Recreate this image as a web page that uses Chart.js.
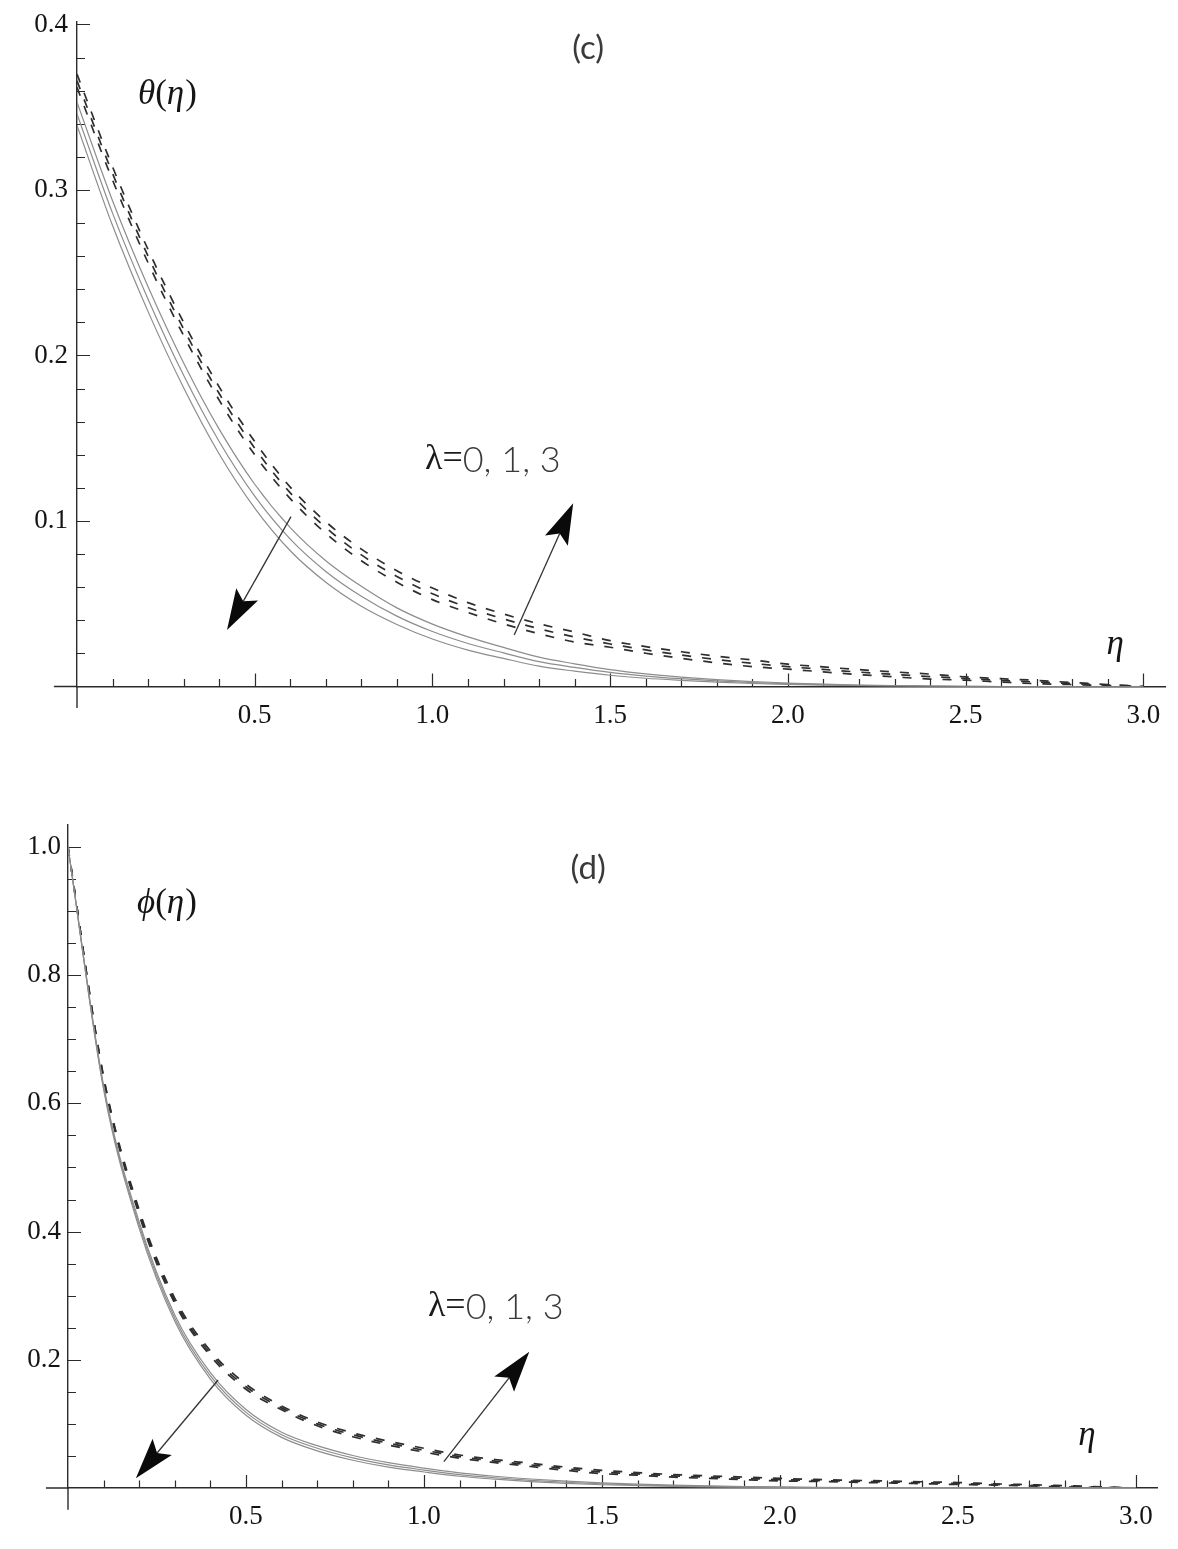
<!DOCTYPE html>
<html>
<head>
<meta charset="utf-8">
<script src="https://cdn.jsdelivr.net/npm/chart.js"></script>
<style>
html,body{margin:0;padding:0;background:#ffffff;}
#wrap{position:relative;width:1178px;height:1549px;overflow:hidden;background:#fff;}
.panel{position:absolute;left:0;width:1178px;}
canvas{display:block;}
</style>
</head>
<body>
<div id="wrap">
  <div class="panel" style="top:0;height:775px"><canvas id="panelC" width="1178" height="775" style="width:1178px;height:775px"></canvas></div>
  <div class="panel" style="top:775px;height:774px"><canvas id="panelD" width="1178" height="774" style="width:1178px;height:774px"></canvas></div>
</div>
<script>
// ---------------- data ----------------
const eta = [0,0.1,0.2,0.3,0.4,0.5,0.6,0.7,0.8,0.9,1.0,1.1,1.2,1.3,1.4,1.5,1.6,1.7,1.8,1.9,2.0,2.1,2.2,2.3,2.4,2.5,2.6,2.7,2.8,2.9,3.0];

// panel (c): theta(eta); solid curves fall with lambda, dashed curves rise with lambda
const thetaSolidL0 = [0.353,0.2935,0.2415,0.1955,0.1555,0.1222,0.096,0.076,0.0605,0.0475,0.0377,0.030,0.0236,0.0177,0.0137,0.0102,0.0076,0.0057,0.0042,0.003,0.0021,0.0014,0.0009,0.0005,0.0003,0.0001,0,0,0,0,0];
const thetaSolidL1 = [0.346,0.286,0.234,0.188,0.148,0.115,0.089,0.0695,0.0545,0.0425,0.0332,0.026,0.0203,0.015,0.0115,0.0085,0.0063,0.0047,0.0034,0.0024,0.0017,0.0011,0.0007,0.0004,0.0002,0.0001,0,0,0,0,0];
const thetaSolidL3 = [0.339,0.2785,0.2265,0.1805,0.1405,0.1078,0.082,0.063,0.0485,0.0375,0.0287,0.022,0.017,0.0123,0.0093,0.0068,0.005,0.0037,0.0026,0.0018,0.0013,0.0008,0.0005,0.0003,0.0001,0,0,0,0,0,0];
const thetaDashedL0 = [0.362,0.306,0.256,0.212,0.173,0.140,0.1135,0.0925,0.076,0.063,0.0525,0.0447,0.0378,0.0319,0.0269,0.0237,0.0201,0.017,0.0143,0.012,0.0105,0.0088,0.0072,0.0058,0.0045,0.0038,0.0027,0.0017,0.0012,0.0006,0];
const thetaDashedL1 = [0.366,0.310,0.260,0.216,0.177,0.144,0.117,0.096,0.0795,0.0665,0.056,0.0477,0.0408,0.0349,0.0299,0.0257,0.0221,0.019,0.0163,0.014,0.012,0.0103,0.0087,0.0073,0.006,0.0048,0.0037,0.0027,0.0018,0.0009,0];
const thetaDashedL3 = [0.370,0.314,0.264,0.220,0.181,0.148,0.1205,0.0995,0.083,0.070,0.0595,0.0507,0.0438,0.0379,0.0329,0.0277,0.0241,0.021,0.0183,0.016,0.0135,0.0118,0.0102,0.0088,0.0075,0.0058,0.0047,0.0037,0.0024,0.0012,0];

// panel (d): phi(eta)
const phiSolidL0 = [1.0,0.628,0.415,0.270,0.180,0.1225,0.087,0.066,0.0507,0.0395,0.031,0.0237,0.0183,0.014,0.0107,0.0079,0.0059,0.0044,0.0032,0.0023,0.0016,0.0011,0.0007,0.0004,0.0002,0.0001,0,0,0,0,0];
const phiSolidL1 = [1.0,0.625,0.41,0.265,0.175,0.118,0.083,0.062,0.047,0.036,0.028,0.021,0.016,0.012,0.009,0.0065,0.0048,0.0035,0.0025,0.0018,0.0012,0.0008,0.0005,0.0003,0.0002,0.0001,0,0,0,0,0];
const phiSolidL3 = [1.0,0.622,0.405,0.260,0.170,0.1135,0.079,0.058,0.0433,0.0325,0.025,0.0183,0.0137,0.010,0.0073,0.0051,0.0037,0.0026,0.0018,0.0013,0.0008,0.0005,0.0003,0.0002,0.0001,0,0,0,0,0,0];
const phiDashedL0 = [1.0,0.638,0.426,0.288,0.206,0.154,0.122,0.097,0.080,0.067,0.056,0.0465,0.0395,0.0335,0.0275,0.0225,0.020,0.017,0.015,0.013,0.011,0.0103,0.0091,0.0079,0.0067,0.0055,0.0046,0.0032,0.0017,0.0008,0];
const phiDashedL1 = [1.0,0.64,0.43,0.292,0.21,0.158,0.125,0.100,0.083,0.070,0.059,0.049,0.042,0.036,0.030,0.025,0.022,0.019,0.017,0.015,0.013,0.0118,0.0106,0.0094,0.0082,0.007,0.0056,0.0042,0.0027,0.0013,0];
const phiDashedL3 = [1.0,0.642,0.434,0.296,0.214,0.162,0.128,0.103,0.086,0.073,0.062,0.0515,0.0445,0.0385,0.0325,0.0275,0.024,0.021,0.019,0.017,0.015,0.0133,0.0121,0.0109,0.0097,0.0085,0.0066,0.0052,0.0037,0.0018,0];

// tick labels
const etaTickValues = [0.5,1.0,1.5,2.0,2.5,3.0];
const etaTickLabels = ['0.5','1.0','1.5','2.0','2.5','3.0'];
const thetaTickValues = [0.1,0.2,0.3,0.4];
const thetaTickLabels = ['0.1','0.2','0.3','0.4'];
const phiTickValues = [0.2,0.4,0.6,0.8,1.0];
const phiTickLabels = ['0.2','0.4','0.6','0.8','1.0'];

// texts
const lambdaSeries = ['λ=0','λ=1','λ=3'];
const panelCLabel = '(c)';
const panelDLabel = '(d)';
const lambdaText = 'λ=0, 1, 3';

// ---------------- styling ----------------
const SERIF = '"Liberation Serif","Times New Roman",serif';
const SANS = 'Lato,"Noto Sans","DejaVu Sans",sans-serif';
const AXIS = '#2b2b2b';
const SOLID = '#8d8d8d';
const DASHED = '#2e2e2e';

function tickLabel(v, values, labels) {
  for (let i = 0; i < values.length; i++) {
    if (Math.abs(v - values[i]) < 1e-6) return labels[i];
  }
  return '';
}

function pts(arr) { return eta.map((e, i) => ({x: e, y: arr[i]})); }

function datasets(solid, dashed) {
  const out = [];
  solid.forEach((arr, i) => out.push({label: lambdaSeries[i] + ' (solid)', data: pts(arr), borderColor: SOLID, borderWidth: 1.2, pointRadius: 0, fill: false}));
  dashed.forEach((arr, i) => out.push({label: lambdaSeries[i] + ' (dashed)', data: pts(arr), borderColor: DASHED, borderWidth: 1.7, borderDash: [9, 11], pointRadius: 0, fill: false}));
  return out;
}

function drawParts(ctx, parts, x, y, align) {
  let total = 0;
  parts.forEach(p => { ctx.font = p.font; p.w = ctx.measureText(p.text).width + (p.gap || 0); total += p.w; });
  let cx = align === 'center' ? x - total / 2 : x;
  ctx.textBaseline = 'middle';
  ctx.textAlign = 'left';
  parts.forEach(p => { ctx.font = p.font; ctx.fillStyle = p.color || '#151515'; ctx.fillText(p.text, cx, y); cx += p.w; });
}

function drawArrow(ctx, x1, y1, x2, y2) {
  const a = Math.atan2(y2 - y1, x2 - x1);
  const L = 41, W = 12.5, N = 33;
  const c = Math.cos(a), s = Math.sin(a);
  const bx = x2 - L * c, by = y2 - L * s;
  const nx = x2 - N * c, ny = y2 - N * s;
  ctx.strokeStyle = '#333'; ctx.lineWidth = 1.3;
  ctx.beginPath(); ctx.moveTo(x1, y1); ctx.lineTo(nx, ny); ctx.stroke();
  ctx.fillStyle = '#0a0a0a';
  ctx.beginPath();
  ctx.moveTo(x2, y2);
  ctx.lineTo(bx + W * s, by - W * c);
  ctx.lineTo(nx, ny);
  ctx.lineTo(bx - W * s, by + W * c);
  ctx.closePath(); ctx.fill();
}

const mathAxes = {
  id: 'mathAxes',
  beforeDatasetsDraw(chart) {
    const o = chart.options.plugins.mathAxes;
    const ctx = chart.ctx, xs = chart.scales.x, ys = chart.scales.y;
    const x0 = xs.getPixelForValue(0), y0 = ys.getPixelForValue(0);
    ctx.save();
    ctx.strokeStyle = AXIS; ctx.lineWidth = 1.4;
    ctx.beginPath();
    ctx.moveTo(xs.getPixelForValue(o.xAxisFrom), y0); ctx.lineTo(x0, y0);
    ctx.moveTo(x0, ys.getPixelForValue(o.yAxisFrom)); ctx.lineTo(x0, y0);
    ctx.stroke();
    ctx.lineWidth = 1.2;
    ctx.beginPath();
    xs.ticks.forEach(t => {
      if (t.value <= 1e-9) return;
      const p = Math.round(xs.getPixelForValue(t.value)) + 0.5;
      const len = t.label ? 13 : 7.5;
      ctx.moveTo(p, y0); ctx.lineTo(p, y0 - len);
    });
    ys.ticks.forEach(t => {
      if (t.value <= 1e-9) return;
      const p = Math.round(ys.getPixelForValue(t.value)) + 0.5;
      const len = t.label ? 13 : 8;
      ctx.moveTo(x0, p); ctx.lineTo(x0 + len, p);
    });
    ctx.stroke();
    ctx.restore();
  },
  afterDatasetsDraw(chart) {
    const o = chart.options.plugins.mathAxes;
    const ctx = chart.ctx, xs = chart.scales.x, ys = chart.scales.y;
    ctx.save();
    o.texts.forEach(t => drawParts(ctx, t.parts, xs.getPixelForValue(t.at[0]), ys.getPixelForValue(t.at[1]), t.align));
    o.arrows.forEach(a => drawArrow(ctx, xs.getPixelForValue(a.from[0]), ys.getPixelForValue(a.from[1]), xs.getPixelForValue(a.to[0]), ys.getPixelForValue(a.to[1])));
    ctx.restore();
  }
};

function lambdaParts() {
  return [
    {text: lambdaText.slice(0, 1), font: '36px ' + SERIF, color: '#1a1a1a'},
    {text: lambdaText.slice(1, 2), font: '36px ' + SERIF, color: '#1a1a1a'},
    {text: lambdaText.slice(2), font: '300 36px ' + SANS, color: '#3a3a3a'}
  ];
}
function funcParts(sym) {
  return [
    {text: sym, font: 'italic 35px ' + SERIF},
    {text: '(', font: '35px ' + SERIF},
    {text: 'η', font: 'italic 35px ' + SERIF, gap: 1},
    {text: ')', font: '35px ' + SERIF}
  ];
}
function panelParts(label) {
  return [{text: label, font: '400 33px ' + SANS, color: '#3a3a3a'}];
}

function makeChart(id, cfg) {
  return new Chart(document.getElementById(id), {
    type: 'line',
    data: {datasets: datasets(cfg.solid, cfg.dashed)},
    plugins: [mathAxes],
    options: {
      responsive: false,
      animation: false,
      devicePixelRatio: 1,
      layout: {padding: cfg.padding},
      elements: {line: {tension: 0, cubicInterpolationMode: 'monotone'}, point: {radius: 0}},
      plugins: {
        legend: {display: false},
        tooltip: {enabled: false},
        mathAxes: {xAxisFrom: cfg.xAxisFrom, yAxisFrom: cfg.yAxisFrom, texts: cfg.texts, arrows: cfg.arrows}
      },
      scales: {
        x: {
          type: 'linear', min: 0, max: cfg.xMax,
          grid: {display: false, drawTicks: false},
          border: {display: true, color: AXIS, width: 1.4},
          ticks: {stepSize: 0.1, autoSkip: false, includeBounds: false, maxRotation: 0, minRotation: 0, padding: 13,
                  color: '#141414', font: {family: SERIF, size: 27},
                  callback: v => tickLabel(v, etaTickValues, etaTickLabels)},
          afterFit: s => { s.height = 60; s.paddingLeft = 0; s.paddingRight = 0; }
        },
        y: {
          type: 'linear', min: 0, max: cfg.yMax,
          grid: {display: false, drawTicks: false},
          border: {display: true, color: AXIS, width: 1.4},
          ticks: {stepSize: cfg.yStep, autoSkip: false, includeBounds: false, padding: cfg.yPad,
                  color: '#141414', font: {family: SERIF, size: 27},
                  callback: v => tickLabel(v, cfg.yTickValues, cfg.yTickLabels)},
          afterFit: s => { s.width = 60; s.paddingTop = 0; s.paddingBottom = 0; }
        }
      }
    }
  });
}

makeChart('panelC', {
  solid: [thetaSolidL0, thetaSolidL1, thetaSolidL3],
  dashed: [thetaDashedL0, thetaDashedL1, thetaDashedL3],
  padding: {left: 17, right: 13, top: 22, bottom: 28.5},
  xMax: 3.061, yMax: 0.4015, yStep: 0.02, yPad: 9,
  yTickValues: thetaTickValues, yTickLabels: thetaTickLabels,
  xAxisFrom: -0.065, yAxisFrom: -0.013,
  texts: [
    {at: [1.438, 0.3858], align: 'center', parts: panelParts(panelCLabel)},
    {at: [0.1716, 0.3574], align: 'left', parts: funcParts('θ')},
    {at: [0.979, 0.1369], align: 'left', parts: lambdaParts()},
    {at: [2.921, 0.0251], align: 'center', parts: [{text: 'η', font: 'italic 35px ' + SERIF}]}
  ],
  arrows: [
    {from: [0.602, 0.1026], to: [0.422, 0.0341]},
    {from: [1.230, 0.0311], to: [1.396, 0.1107]}
  ]
});

makeChart('panelD', {
  solid: [phiSolidL0, phiSolidL1, phiSolidL3],
  dashed: [phiDashedL0, phiDashedL1, phiDashedL3],
  padding: {left: 8, right: 21, top: 50, bottom: 1},
  xMax: 3.059, yMax: 1.0343, yStep: 0.05, yPad: 7,
  yTickValues: phiTickValues, yTickLabels: phiTickLabels,
  xAxisFrom: -0.062, yAxisFrom: -0.034,
  texts: [
    {at: [1.461, 0.967], align: 'center', parts: panelParts(panelDLabel)},
    {at: [0.194, 0.911], align: 'left', parts: funcParts('ϕ')},
    {at: [1.011, 0.2824], align: 'left', parts: lambdaParts()},
    {at: [2.862, 0.0811], align: 'center', parts: [{text: 'η', font: 'italic 35px ' + SERIF}]}
  ],
  arrows: [
    {from: [0.4216, 0.1685], to: [0.1907, 0.0151]},
    {from: [1.0559, 0.0410], to: [1.2958, 0.2126]}
  ]
});
</script>
</body>
</html>
